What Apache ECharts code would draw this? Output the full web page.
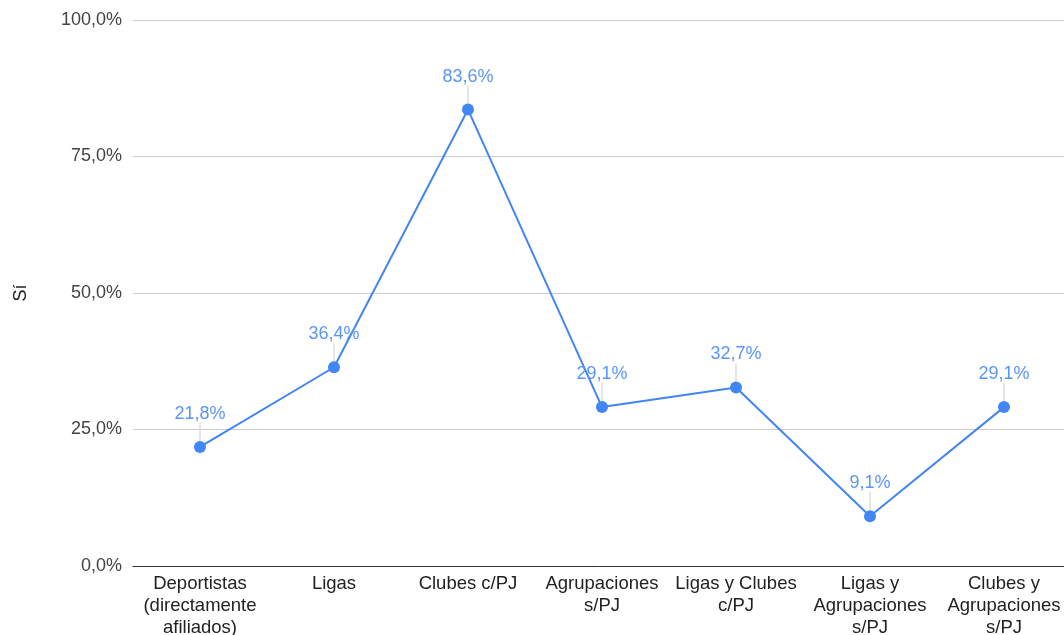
<!DOCTYPE html>
<html>
<head>
<meta charset="utf-8">
<script src="https://cdn.jsdelivr.net/npm/echarts@6/dist/echarts.min.js"></script>
<style>
  html, body { margin: 0; padding: 0; background: #fff; }
  #chart { width: 1064px; height: 635px; }
</style>
</head>
<body>
<div id="chart"></div>
<script>
const categories = [
  'Deportistas\n(directamente\nafiliados)',
  'Ligas',
  'Clubes c/PJ',
  'Agrupaciones\ns/PJ',
  'Ligas y Clubes\nc/PJ',
  'Ligas y\nAgrupaciones\ns/PJ',
  'Clubes y\nAgrupaciones\ns/PJ'
]
const siValues = [21.8, 36.4, 83.6, 29.1, 32.7, 9.1, 29.1]
const yTicks = [0, 25, 50, 75, 100]

const fmt = v => v.toFixed(1).replace('.', ',') + '%'

const chart = echarts.init(document.getElementById('chart'))
chart.setOption({
  animation: false,
  textStyle: { fontFamily: 'Liberation Sans, Arial, sans-serif' },
  grid: { left: 133, right: -7, top: 20, height: 546, outerBoundsMode: 'none' },
  xAxis: {
    type: 'category',
    data: categories,
    boundaryGap: true,
    axisLine: { lineStyle: { color: '#333', width: 1 } },
    axisTick: { show: false },
    axisLabel: { color: '#222', fontSize: 18.5, lineHeight: 22, margin: 7, interval: 0 }
  },
  yAxis: {
    type: 'value',
    min: yTicks[0],
    max: yTicks[yTicks.length - 1],
    interval: 25,
    name: 'Sí',
    nameLocation: 'middle',
    nameGap: 103,
    nameTextStyle: { color: '#222', fontSize: 18 },
    axisLine: { show: false },
    axisTick: { show: false },
    axisLabel: { color: '#444', fontSize: 18, margin: 11, formatter: v => fmt(v) },
    splitLine: { lineStyle: { color: '#ccc', width: 1 } }
  },
  series: [{
    type: 'line',
    data: siValues,
    symbol: 'circle',
    symbolSize: 12,
    itemStyle: { color: '#4285f4' },
    lineStyle: { color: '#4285f4', width: 2 },
    label: {
      show: true,
      position: 'top',
      distance: 4,
      color: '#5b95f5',
      fontSize: 18,
      formatter: p => fmt(p.value)
    },
    labelLayout: { dy: -14 },
    labelLine: { show: true, lineStyle: { color: '#ddd', width: 1.5 } }
  }]
})
</script>
</body>
</html>
